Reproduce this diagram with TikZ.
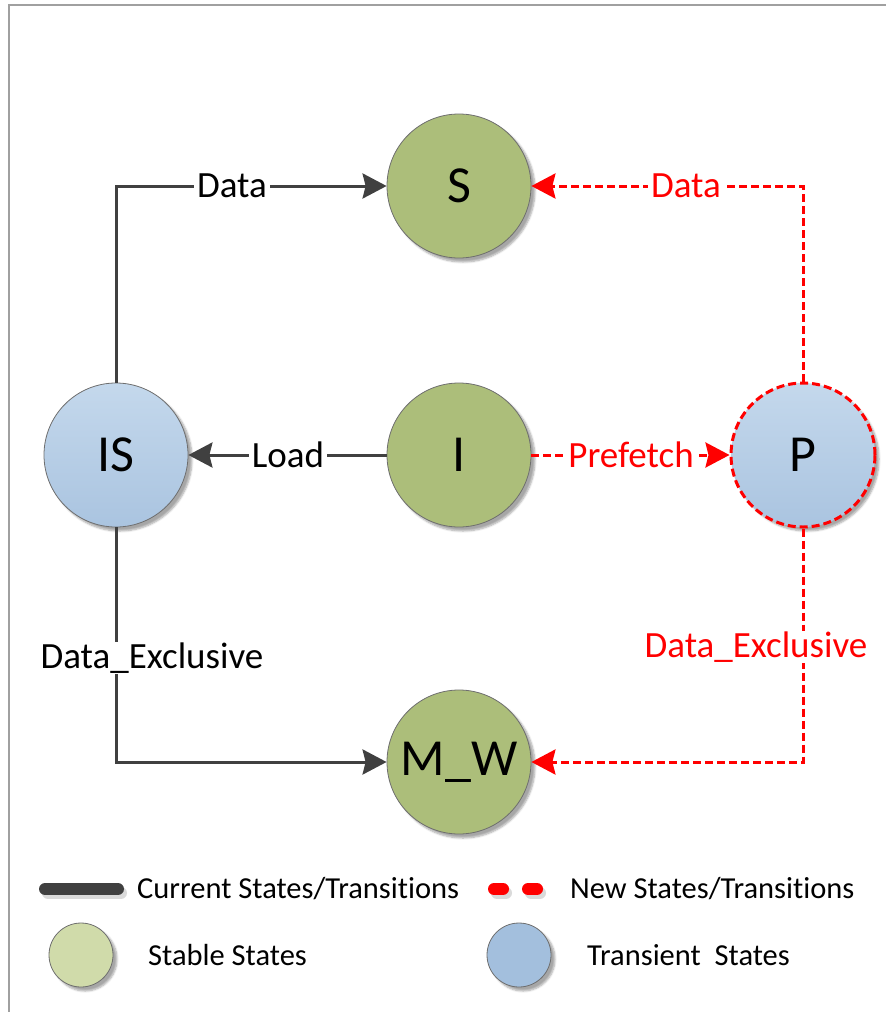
\documentclass[tikz,border=0pt]{standalone}
\usepackage{fontspec}
\setmainfont{Carlito}[Ligatures=NoCommon]
\usetikzlibrary{arrows.meta,shadows.blur}

\definecolor{stablefill}{RGB}{172,190,122}
\definecolor{transtop}{RGB}{196,216,236}
\definecolor{transbot}{RGB}{170,196,224}
\definecolor{edgegray}{RGB}{64,64,64}
\definecolor{rim}{RGB}{110,110,110}
\definecolor{framegray}{RGB}{160,160,160}
\definecolor{legstable}{RGB}{208,219,170}
\definecolor{legtrans}{RGB}{163,191,221}
\definecolor{shadowgray}{RGB}{218,218,218}

\begin{document}
\begin{tikzpicture}[x=1pt,y=-1pt,
  softshadow/.style={blur shadow={shadow xshift=4pt, shadow yshift=-4pt,
      shadow opacity=35, shadow blur steps=6}},
  state/.style={circle, minimum size=144pt, inner sep=0pt, draw=rim,
      line width=0.8pt, font=\fontsize{52}{52}\selectfont, softshadow},
  stable/.style={state, fill=stablefill},
  transient/.style={state, top color=transtop, bottom color=transbot},
  newstate/.style={transient, draw=red, line width=3pt,
      dash pattern=on 8pt off 4pt},
  tip/.style={-{Stealth[length=24pt, width=25pt, inset=3pt]}},
  cur/.style={draw=edgegray, line width=3pt, tip},
  new/.style={draw=red, line width=3pt, dash pattern=on 8pt off 4pt, tip},
  lbl/.style={fill=white, inner xsep=3pt, inner ysep=1pt,
      font=\fontsize{37}{37}\selectfont},
  redlbl/.style={lbl, text=red},
  legtext/.style={anchor=west, inner sep=0pt, font=\fontsize{30.5}{30.5}\selectfont},
  legdot/.style={circle, minimum size=64pt, inner sep=0pt, draw=rim,
      line width=0.8pt, softshadow},
  keyline/.style={line width=12pt, line cap=round},
  keyshadow/.style={keyline, draw=shadowgray}
]
\useasboundingbox (0,0) rectangle (886,1012);

% page frame
\draw[framegray, line width=2pt] (9,1012) -- (9,4.5) -- (886,4.5);

% states
\node[stable]    (S)  at (459,186) {S};
\node[transient] (IS) at (116,455) {IS};
\node[stable]    (I)  at (459,455) {I};
\node[newstate]  (P)  at (803,455) {P};
\node[stable]    (MW) at (459,762) {M\_W};

% existing transitions
\draw[cur] (IS.north) |- (S.west);
\draw[cur] (I.west) -- (IS.east);
\draw[cur] (IS.south) |- (MW.west);

% added transitions
\draw[new] (I.east) -- (P.west);
\draw[new] (P.north) |- (S.east);
\draw[new] (P.south) |- (MW.east);

% transition labels
\node[lbl]    (lData)  at (232,186) {Data};
\node[lbl]    (lLoad)  at (288,455) {Load};
\node[lbl]    (lDX)    at (152,658) {Data\_Exclusive};
\node[redlbl] (lPre)   at (631,455) {Prefetch};
\node[redlbl] (lDataP) at (686,186) {Data};
\node[redlbl] (lDXP)   at (756,647) {Data\_Exclusive};

% legend
\coordinate (k1) at (45,889);
\coordinate (k2) at (118,889);
\draw[keyshadow] ([shift={(3,4)}]k1) -- ([shift={(3,4)}]k2);
\draw[keyline, draw=edgegray] (k1) -- (k2);
\node[legtext] (tCur) at (137,889) {Current States/Transitions};

\coordinate (r1) at (494,889);
\coordinate (r2) at (503,889);
\coordinate (r3) at (528,889);
\coordinate (r4) at (537,889);
\draw[keyshadow] ([shift={(3,4)}]r1) -- ([shift={(3,4)}]r2);
\draw[keyshadow] ([shift={(3,4)}]r3) -- ([shift={(3,4)}]r4);
\draw[keyline, draw=red] (r1) -- (r2);
\draw[keyline, draw=red] (r3) -- (r4);
\node[legtext] (tNew) at (570,889) {New States/Transitions};

\node[legdot, fill=legstable] (dS) at (81,955) {};
\node[legtext] (tS) at (148,955) {Stable States};
\node[legdot, fill=legtrans] (dT) at (519,955) {};
\node[legtext] (tT) at (587,955) {Transient\ \ States};
\end{tikzpicture}
\end{document}
